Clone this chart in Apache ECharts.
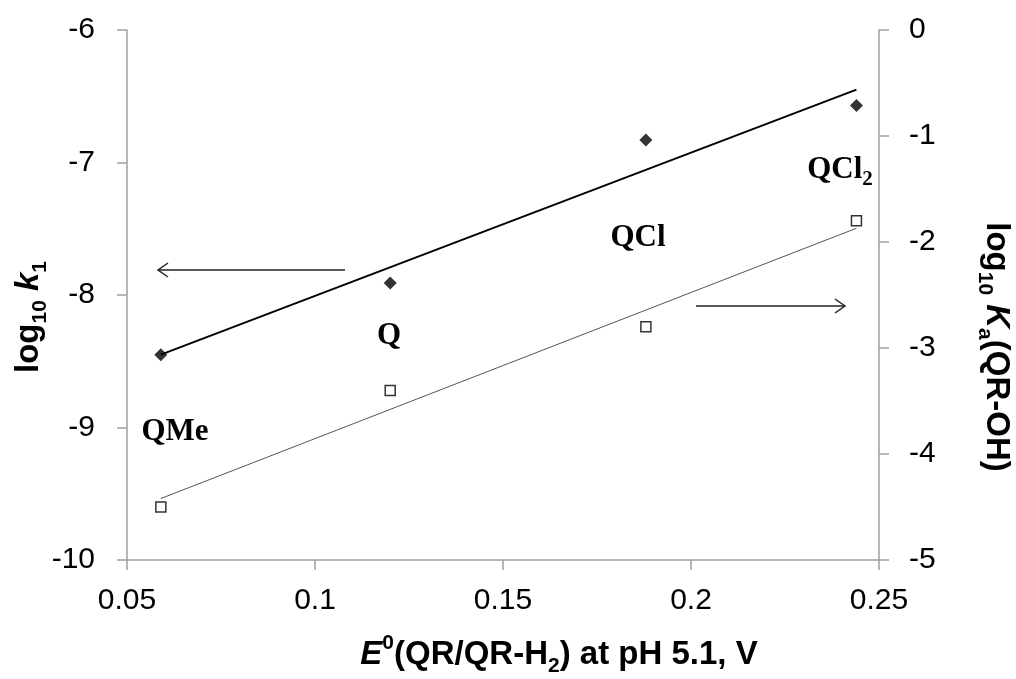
<!DOCTYPE html>
<html>
<head>
<meta charset="utf-8">
<script src="https://cdn.jsdelivr.net/npm/echarts@6/dist/echarts.min.js"></script>
<style>
  html, body { margin: 0; padding: 0; background: #fff; }
  #chart { width: 1016px; height: 679px; }
</style>
</head>
<body>
<div id="chart"></div>
<script>
// E0 (V) of each quinone
var compounds = ['QMe', 'Q', 'QCl', 'QCl2'];
var e0 = [0.059, 0.120, 0.188, 0.244];
// log10 k1 (left axis, filled diamonds)
var logK1 = [-8.45, -7.91, -6.83, -6.57];
// log10 Ka(QR-OH) (right axis, open squares)
var logKa = [-4.50, -3.40, -2.80, -1.80];
// trend line end points
var k1FitX = [0.059, 0.244];
var k1FitY = [-8.45, -6.45];
var kaFitX = [0.059, 0.244];
var kaFitY = [-4.42, -1.87];

var axisGray = '#a0a0a0';
var tickFont = { fontFamily: 'Liberation Sans', fontSize: 30, color: '#000' };

function pairs(xs, ys) {
  return xs.map(function (x, i) { return [x, ys[i]]; });
}

var titleRich = {
  n: { fontFamily: 'Liberation Sans', fontWeight: 'bold', fontSize: 33, lineHeight: 44, color: '#000', verticalAlign: 'middle' },
  i: { fontFamily: 'Liberation Sans', fontWeight: 'bold', fontStyle: 'italic', fontSize: 33, lineHeight: 44, color: '#000', verticalAlign: 'middle' },
  sub: { fontFamily: 'Liberation Sans', fontWeight: 'bold', fontSize: 21, lineHeight: 44, color: '#000', verticalAlign: 'bottom' },
  sup: { fontFamily: 'Liberation Sans', fontWeight: 'bold', fontSize: 21, lineHeight: 44, color: '#000', verticalAlign: 'top' }
};
var labRich = {
  n: { fontFamily: 'Liberation Serif', fontWeight: 'bold', fontSize: 31, lineHeight: 40, color: '#000', verticalAlign: 'middle' },
  sub: { fontFamily: 'Liberation Serif', fontWeight: 'bold', fontSize: 21, lineHeight: 40, color: '#000', verticalAlign: 'bottom' }
};

function txt(x, y, text, rich, rot) {
  return {
    type: 'text', x: x, y: y, rotation: rot || 0, z: 100,
    style: { text: text, rich: rich, align: 'center', verticalAlign: 'middle' }
  };
}
function arrow(x1, x2, y) {
  var d = x2 > x1 ? -10 : 10;
  return [
    { type: 'line', z: 100, shape: { x1: x1, y1: y, x2: x2, y2: y }, style: { stroke: '#222', lineWidth: 1.5 } },
    { type: 'polyline', z: 100, shape: { points: [[x2 + d, y - 7], [x2, y], [x2 + d, y + 7]] }, style: { stroke: '#222', lineWidth: 1.5, fill: null } }
  ];
}

var chart = echarts.init(document.getElementById('chart'));

var option = {
  backgroundColor: '#fff',
  animation: false,
  grid: { left: 127, right: 137, top: 30, bottom: 119 },
  xAxis: {
    type: 'value', min: 0.05, max: 0.25, interval: 0.05,
    axisLine: { onZero: false, lineStyle: { color: axisGray, width: 1.5 } },
    axisTick: { show: true, length: 10, lineStyle: { color: axisGray, width: 1.5 } },
    axisLabel: Object.assign({ margin: 26 }, tickFont),
    splitLine: { show: false }
  },
  yAxis: [
    {
      type: 'value', min: -10, max: -6, interval: 1, position: 'left',
      axisLine: { show: true, onZero: false, lineStyle: { color: axisGray, width: 1.5 } },
      axisTick: { show: true, length: 10, lineStyle: { color: axisGray, width: 1.5 } },
      axisLabel: Object.assign({ margin: 32 }, tickFont),
      splitLine: { show: false }
    },
    {
      type: 'value', min: -5, max: 0, interval: 1, position: 'right',
      axisLine: { show: true, onZero: false, lineStyle: { color: axisGray, width: 1.5 } },
      axisTick: { show: true, length: 10, lineStyle: { color: axisGray, width: 1.5 } },
      axisLabel: Object.assign({ margin: 30 }, tickFont),
      splitLine: { show: false }
    }
  ],
  series: [
    {
      name: 'k1 fit', type: 'line', yAxisIndex: 0, data: pairs(k1FitX, k1FitY),
      symbol: 'none', lineStyle: { color: '#000', width: 2 }, z: 2
    },
    {
      name: 'Ka fit', type: 'line', yAxisIndex: 1, data: pairs(kaFitX, kaFitY),
      symbol: 'none', lineStyle: { color: '#555', width: 1 }, z: 2
    },
    {
      name: 'log k1', type: 'scatter', yAxisIndex: 0, data: pairs(e0, logK1),
      symbol: 'diamond', symbolSize: 13, itemStyle: { color: '#000' }, z: 3
    },
    {
      name: 'log Ka', type: 'scatter', yAxisIndex: 1, data: pairs(e0, logKa),
      symbol: 'rect', symbolSize: 10,
      itemStyle: { color: '#fff', borderColor: '#000', borderWidth: 1.5 }, z: 3
    }
  ],
  graphic: [
    txt(29, 317, '{n|log}{sub|10}{n| }{i|k}{sub|1}', titleRich, Math.PI / 2),
    txt(996, 347, '{n|log}{sub|10}{n| }{i|K}{sub|a}{n|(QR-OH)}', titleRich, -Math.PI / 2),
    txt(559, 655, '{i|E}{sup|0}{n|(QR/QR-H}{sub|2}{n|) at pH 5.1, V}', titleRich, 0),
    txt(175, 432, '{n|' + compounds[0] + '}', labRich, 0),
    txt(389, 336, '{n|' + compounds[1] + '}', labRich, 0),
    txt(638, 238, '{n|' + compounds[2] + '}', labRich, 0),
    txt(840, 170, '{n|QCl}{sub|2}', labRich, 0)
  ].concat(arrow(345, 158, 270), arrow(696, 845, 306))
};

chart.setOption(option);
</script>
</body>
</html>
